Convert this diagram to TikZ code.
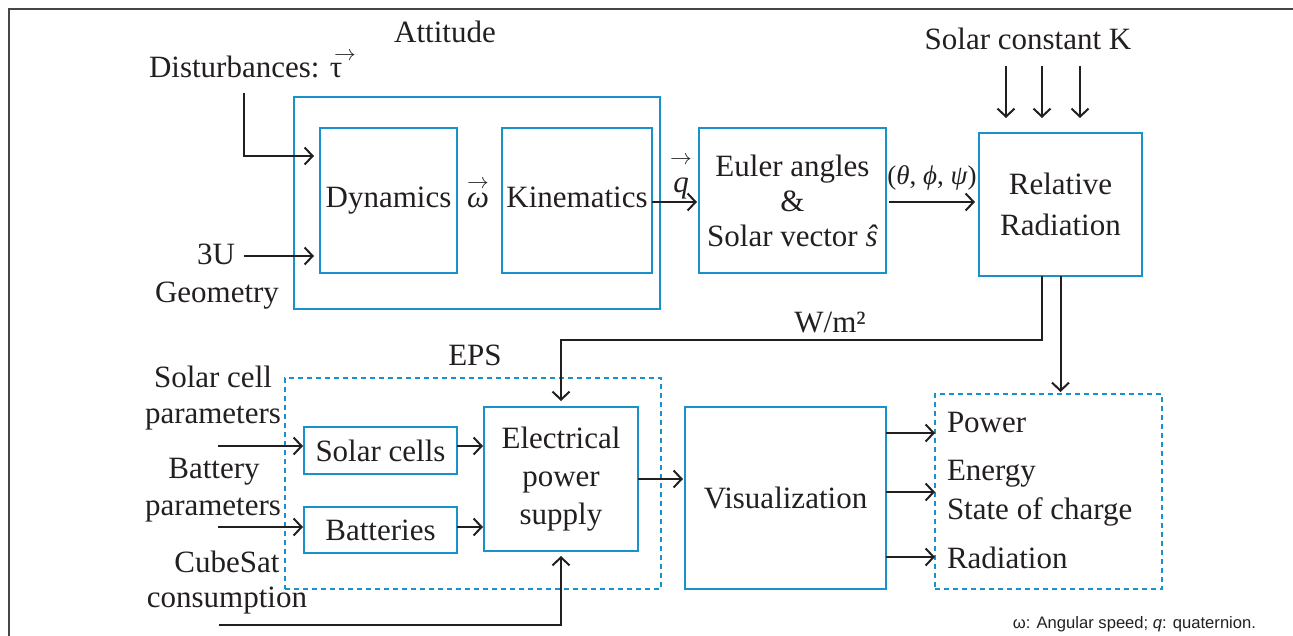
\documentclass[tikz,border=0pt]{standalone}
\usepackage{fix-cm}
\usepackage{amsmath}
\usepackage{fontspec}
\setmainfont{Liberation Serif}
\newfontfamily\notefont{Liberation Sans}
\usetikzlibrary{arrows.meta,calc}
\definecolor{boxblue}{RGB}{25,145,205}
\definecolor{ink}{RGB}{35,31,32}
\definecolor{framegray}{RGB}{70,70,70}
\newcommand{\vecw}{\ensuremath{\overset{\scriptstyle\rightarrow}{\text{\itshape ω}}}}
\newcommand{\vect}{τ\rlap{\hspace{-8pt}\raisebox{17pt}{$\scriptstyle\rightarrow$}}}
\newcommand{\vecq}{\ensuremath{\overset{\raisebox{9pt}{$\scriptstyle\rightarrow$}}{\text{\itshape q}}}}
\tikzset{
  every node/.style={text=ink, inner sep=0pt, outer sep=0pt},
  big/.style={font=\fontsize{31}{38}\selectfont},
  bluebox/.style={draw=boxblue, line width=2.4pt, rectangle, big, align=center},
  dashbox/.style={draw=boxblue, line width=2.2pt, rectangle, dash pattern=on 5pt off 4pt},
  arr/.style={draw=ink, line width=2pt, -{Straight Barb[length=8pt,width=17pt,line width=2pt]}},
  lbl/.style={big, anchor=base},
}
\begin{document}
\begin{tikzpicture}[x=1pt,y=-1pt]
\useasboundingbox (0,0) rectangle (1293,636);
% frame
\draw[framegray, line width=2pt] (9,636) -- (9,9) -- (1293,9);

% attitude group
\node[lbl] (attl) at (445,43) {Attitude};
\node[bluebox, minimum width=366pt, minimum height=212pt] (att) at (477,203) {};
\node[bluebox, minimum width=137pt, minimum height=145pt] (dyn) at (388.5,200.5) {Dynamics};
\node[bluebox, minimum width=150pt, minimum height=145pt, text depth=7pt] (kin) at (577,200.5) {Kinematics};
\node[lbl] (om) at (478,208) {\vecw};
\node[bluebox, minimum width=187pt, minimum height=145pt, font=\fontsize{31}{35}\selectfont] (eul) at (792.5,200.5) {Euler angles\\\&\\Solar vector \textit{ŝ}};
\node[bluebox, minimum width=163pt, minimum height=143pt, font=\fontsize{31}{41}\selectfont] (rad) at (1060.5,204.5) {Relative\\Radiation};

\node[lbl, anchor=base west] (dist) at (149,78) {Disturbances: \vect};
\node[lbl] (u3) at (216,265) {3U};
\node[lbl] (geo) at (217,302) {Geometry};
\node[lbl] (solk) at (1028,50) {Solar constant K};
\node[lbl] (qv) at (681,193) {\vecq};
\node[lbl, font=\fontsize{27}{30}\selectfont] (ang) at (932,185) {(\textit{θ}, \textit{ϕ}, \textit{ψ})};

\coordinate (dtop) at (244,93);
\coordinate (u3s) at (244,256);
\coordinate (k1) at (1006,66);
\coordinate (k2) at (1042,66);
\coordinate (k3) at (1080,66);

\draw[arr, shorten >=6pt] (dtop) |- (dyn.west |- 0,156);
\draw[arr, shorten >=6pt] (u3s) -- (dyn.west |- u3s);
\draw[arr, shorten >=2pt] (kin.east |- 0,202) -- (eul.west |- 0,202);
\draw[arr, shorten <=3pt, shorten >=4pt] (eul.east |- 0,202) -- (rad.west |- 0,202);
\draw[arr, shorten >=15pt] (k1) -- (k1 |- rad.north);
\draw[arr, shorten >=15pt] (k2) -- (k2 |- rad.north);
\draw[arr, shorten >=15pt] (k3) -- (k3 |- rad.north);

% EPS group
\node[lbl] (epsl) at (475,365) {EPS};
\node[dashbox, minimum width=376pt, minimum height=211pt] (eps) at (473,483.5) {};
\node[bluebox, minimum width=153pt, minimum height=47pt] (sc) at (380.5,450.5) {Solar cells};
\node[bluebox, minimum width=153pt, minimum height=46pt] (bat) at (380.5,530) {Batteries};
\node[bluebox, minimum width=154pt, minimum height=144pt] (ele) at (561,479) {Electrical\\power\\supply};
\node[bluebox, minimum width=201pt, minimum height=182pt] (vis) at (785.5,498) {Visualization};
\node[dashbox, minimum width=227pt, minimum height=195pt] (out) at (1048.5,491.5) {};

\node[lbl] (scp1) at (213,387) {Solar cell};
\node[lbl] (scp2) at (213,423) {parameters};
\node[lbl] (bp1) at (214,478) {Battery};
\node[lbl] (bp2) at (213,515) {parameters};
\node[lbl] (cs1) at (227,572) {CubeSat};
\node[lbl] (cs2) at (227,607) {consumption};

\node[lbl, anchor=base west] (o1) at (947,432) {Power};
\node[lbl, anchor=base west] (o2) at (947,480) {Energy};
\node[lbl, anchor=base west] (o3) at (947,519) {State of charge};
\node[lbl, anchor=base west] (o4) at (947,568) {Radiation};

\node[lbl] (wm) at (830,332) {W/m²};

\node[anchor=base east, font=\notefont\fontsize{16.6}{18}\selectfont] (note) at (1256,628) {ω: Angular speed; \textit{q}: quaternion.};

\coordinate (scin) at (218,446);
\coordinate (batin) at (218,527);
\coordinate (csin) at (219,625);

\draw[arr, shorten >=1pt] (scin) -- (sc.west |- scin);
\draw[arr, shorten >=1pt] (batin) -- (bat.west |- batin);
\draw[arr, shorten >=1pt] (sc.east |- 0,446) -- (ele.west |- 0,446);
\draw[arr, shorten >=1pt] (bat.east |- 0,527) -- (ele.west |- 0,527);
\draw[arr, shorten >=5pt] (csin) -| (ele.south);
\draw[arr, shorten >=2pt] (ele.east |- 0,479) -- (vis.west |- 0,479);
\draw[arr, shorten >=6pt] (rad.south -| k2) -- ++(0,64) -| (ele.north);
\draw[arr, shorten >=2pt] (rad.south) -- (out.north -| rad.south);
\draw[arr] (vis.east |- 0,433) -- (out.west |- 0,433);
\draw[arr] (vis.east |- 0,492) -- (out.west |- 0,492);
\draw[arr] (vis.east |- 0,557) -- (out.west |- 0,557);
\end{tikzpicture}
\end{document}
